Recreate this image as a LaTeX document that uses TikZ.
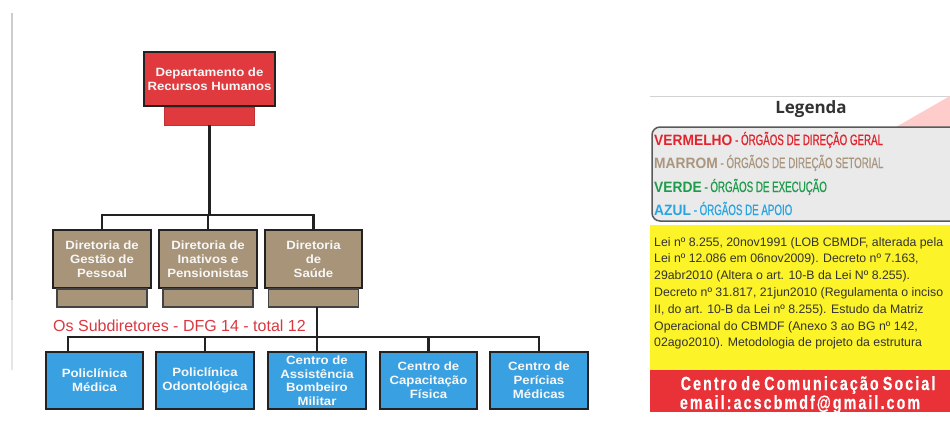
\documentclass[tikz,border=0pt]{standalone}
\usepackage{fontspec}
\setmainfont{Liberation Sans}
\newfontfamily\boxfont[FakeStretch=1.1]{Liberation Sans}
\newfontfamily\legfont[FakeStretch=0.65,FakeBold=0.6]{Liberation Sans}
\newfontfamily\keyfont[FakeStretch=0.92]{Liberation Sans}
\newfontfamily\bandfont[FakeStretch=0.75,FakeBold=0.5,LetterSpace=11,WordSpace=0.7]{Liberation Sans}
\newfontfamily\headfont{Open Sans}
\usetikzlibrary{positioning,calc}

\definecolor{dirred}{RGB}{224,58,62}
\definecolor{dirbrown}{RGB}{167,148,121}
\definecolor{apblue}{RGB}{57,160,225}
\definecolor{linegray}{RGB}{34,34,34}
\definecolor{subred}{RGB}{218,56,64}
\definecolor{legred}{RGB}{225,35,45}
\definecolor{legbrown}{RGB}{170,150,125}
\definecolor{leggreen}{RGB}{30,155,75}
\definecolor{legblue}{RGB}{40,165,225}
\definecolor{legbg}{RGB}{234,234,234}
\definecolor{legyellow}{RGB}{252,243,40}
\definecolor{bandred}{RGB}{232,50,55}

\begin{document}
\begin{tikzpicture}[x=1pt,y=-1pt]
\tikzstyle{conn}=[line width=2.4pt,draw=linegray]
\tikzstyle{orgbox}=[draw=linegray,line width=2.4pt,inner sep=0pt,outer sep=0pt,text=white!94!gray,align=center,font=\boxfont\bfseries\fontsize{12}{14}\selectfont]
\tikzstyle{dgbox}=[orgbox,fill=dirred,minimum width=131pt,minimum height=54pt]
\tikzstyle{dsbox}=[orgbox,fill=dirbrown,minimum width=97.5pt,minimum height=57.5pt]
\tikzstyle{apbox}=[orgbox,fill=apblue,minimum width=97.5pt,minimum height=56.5pt]
\tikzstyle{tab}=[inner sep=0pt,outer sep=0pt,minimum width=90pt,minimum height=18pt]
\tikzstyle{brtab}=[tab,fill=dirbrown,draw=linegray!85,line width=1.2pt]
\tikzstyle{legline}=[anchor=base west,inner sep=0pt,font=\legfont\fontsize{15}{16}\selectfont]
\newcommand{\legkey}[1]{{\keyfont\bfseries\fontsize{15}{16}\selectfont #1}}

\useasboundingbox (0,0) rectangle (950,436);
\clip (0,0) rectangle (950,436);
\fill[white] (0,0) rectangle (950,436);
\draw[gray!40,line width=1.5pt] (12,13) -- (12,300);
\draw[gray!20,line width=1.5pt] (12,300) -- (12,370);

% organograma
\node[dgbox] (rh) at (209.5,79) {Departamento de\\Recursos Humanos};
\node[tab,fill=dirred,draw=dirred!85!black,line width=.6pt,below=1.2pt of rh] (rhtab) {};

\node[dsbox] (dgp) at (102,259) {Diretoria de\\Gestão de\\Pessoal};
\node[dsbox] (dip) at (208,259) {Diretoria de\\Inativos e\\Pensionistas};
\node[dsbox] (dsau) at (313.5,259) {Diretoria\\de\\Saúde};
\node[brtab,below=1.2pt of dgp] (dgptab) {};
\node[brtab,below=1.2pt of dip] (diptab) {};
\node[brtab,below=1.2pt of dsau] (dsautab) {};

\coordinate (bus1) at (208,215);
\draw[conn] (rhtab.south) -- (rhtab.south |- bus1);
\draw[conn] (dgp.north) |- (bus1) -| (dsau.north);
\draw[conn] (dip.north) -- (dip.north |- bus1);

\node[anchor=base west,inner sep=0pt,text=subred,font=\fontsize{16}{18}\selectfont] (subdir) at (53,331) {Os Subdiretores - DFG 14 - total 12};

\node[apbox] (pmed) at (94.5,380.5) {Policlínica\\Médica};
\node[apbox] (podo) at (205,380.5) {Policlínica\\Odontológica};
\node[apbox,font=\boxfont\bfseries\fontsize{12}{13.5}\selectfont] (cabm) at (317,380.5) {Centro de\\Assistência\\Bombeiro\\Militar};
\node[apbox] (ccf) at (428.5,380.5) {Centro de\\Capacitação\\Física};
\node[apbox] (cpm) at (539,380.5) {Centro de\\Perícias\\Médicas};

\coordinate (bus2) at (318,337);
\coordinate (pmedx) at ($(pmed.north west)!.23!(pmed.north east)$);
\draw[conn] (dsautab.south -| cabm.north) -- (cabm.north);
\draw[conn] (pmedx) |- (bus2) -| (cpm.north);
\draw[conn] (podo.north) -- (podo.north |- bus2);
\draw[conn] (ccf.north) -- (ccf.north |- bus2);

% legenda
\draw[gray!35,line width=1pt] (650,96) -- (950,96);
\fill[red!20] (896,127) -- (950,96) -- (950,127) -- cycle;
\node[anchor=base,inner sep=0pt,text=black!80,font=\headfont\bfseries\fontsize{17}{20}\selectfont] (legenda) at (811,113) {Legenda};
\draw[fill=legbg,draw=black!65,line width=1.5pt,rounded corners=8pt] (652,127) rectangle (962,221);
\node[legline,text=legred] (lvm) at (654,145) {\legkey{VERMELHO} - ÓRGÃOS DE DIREÇÃO GERAL};
\node[legline,text=legbrown] (lmr) at (654,168) {\legkey{MARROM} - ÓRGÃOS DE DIREÇÃO SETORIAL};
\node[legline,text=leggreen] (lvd) at (654,192) {\legkey{VERDE} - ÓRGÃOS DE EXECUÇÃO};
\node[legline,text=legblue] (laz) at (654,215) {\legkey{AZUL} - ÓRGÃOS DE APOIO};

\fill[legyellow] (650,225) rectangle (950,370);
\node[anchor=north west,inner sep=0pt,align=left,text=black!80,font=\fontsize{12.3}{16.8}\selectfont] (lei) at (654,237) {Lei nº 8.255, 20nov1991 (LOB CBMDF, alterada pela\\Lei nº 12.086 em 06nov2009). Decreto nº 7.163,\\29abr2010 (Altera o art. 10-B da Lei Nº 8.255).\\Decreto nº 31.817, 21jun2010 (Regulamenta o inciso\\II, do art. 10-B da Lei nº 8.255). Estudo da Matriz\\Operacional do CBMDF (Anexo 3 ao BG nº 142,\\02ago2010). Metodologia de projeto da estrutura};

\fill[bandred] (650,370) rectangle (950,412);
\node[anchor=base,inner sep=0pt,text=white,font=\bandfont\bfseries\fontsize{19}{20}\selectfont] (ccs) at (808,390) {Centro de Comunicação Social};
\node[anchor=base,inner sep=0pt,text=white,font=\bandfont\bfseries\fontsize{19}{20}\selectfont] (mail) at (800,409) {email:acscbmdf@gmail.com};
\end{tikzpicture}
\end{document}
